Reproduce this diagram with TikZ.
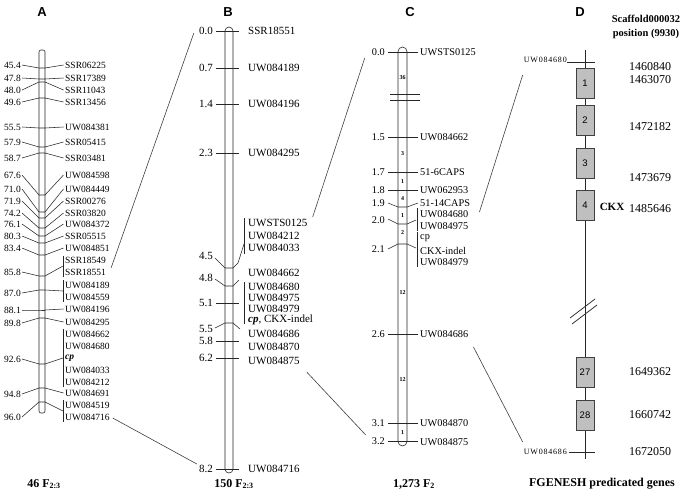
\documentclass[tikz,border=0pt]{standalone}
\usepackage{fontspec}
\setmainfont{Liberation Serif}
\newfontfamily\hdrfont{Liberation Sans}
\newfontfamily\widefont[LetterSpace=10]{Liberation Serif}
\usetikzlibrary{calc}
\begin{document}
\begin{tikzpicture}[x=1pt,y=-1pt,
  conn/.style={draw=black!85, line width=0.55pt},
  link/.style={draw=black!75, line width=0.6pt},
  chrom/.style={draw=black!85, line width=0.6pt, fill=white},
  labA/.style={inner sep=0pt, font=\fontsize{9.5}{10}\selectfont},
  labB/.style={inner sep=0pt, font=\fontsize{11}{12}\selectfont},
  labC/.style={inner sep=0pt, font=\fontsize{10.3}{11}\selectfont},
  labD/.style={inner sep=0pt, font=\fontsize{12}{13}\selectfont},
  smallD/.style={inner sep=0pt, font=\widefont\fontsize{8}{8}\selectfont},
  hdr/.style={inner sep=0pt, font=\hdrfont\bfseries\fontsize{13}{13}\selectfont},
  foot/.style={inner sep=0pt, font=\bfseries\fontsize{12}{13}\selectfont},
  intv/.style={inner sep=0pt, font=\bfseries\fontsize{6}{6}\selectfont},
  gene/.style={draw=black!75, fill=black!25, line width=0.6pt, minimum width=18pt, minimum height=30pt, inner sep=0pt, font=\hdrfont\fontsize{9.5}{10}\selectfont},
]
\useasboundingbox (0,0) rectangle (685,493);
\fill[white] (0,0) rectangle (685,493);

% ---------------- headers and footers
\node[hdr] (hA) at (42,12) {A};
\node[hdr] (hB) at (228,12) {B};
\node[hdr] (hC) at (410,12) {C};
\node[hdr] (hD) at (580,12) {D};
\node[foot] (fA) at (44,484) {46 F\textsubscript{2:3}};
\node[foot] (fB) at (234,484) {150 F\textsubscript{2:3}};
\node[foot] (fC) at (414,484) {1,273 F\textsubscript{2}};
\node[foot] (fD) at (602,484) {FGENESH predicated genes};

% ---------------- panel A
\draw[chrom, rounded corners=2pt] (39,50) rectangle (45,413);
\foreach \v/\ly/\ty [count=\i] in {45.4/65/68, 47.8/78/79, 48.0/90/82, 49.6/102/98, 55.5/127/128, 57.9/142/147, 58.7/158/153, 67.6/175/195, 71.0/189/212, 71.9/201/218, 74.2/213/228, 76.1/224/236, 80.3/236/243, 83.4/248/255, 85.8/272/276, 87.0/293/290, 88.1/310/310, 89.8/323/318, 92.6/359/364, 94.8/394/388, 96.0/417/402} {
  \node[labA, anchor=east] (aN\i) at (21,\ly) {\v};
  \draw[conn] ($(aN\i.east)+(1,0)$) -- (39,\ty) -- (45,\ty);
}
\foreach \nm/\ly [count=\i] in {SSR06225/65, SSR17389/78, SSR11043/90, SSR13456/102, UW084381/127, SSR05415/142, SSR03481/158, UW084598/175, UW084449/189, SSR00276/201, SSR03820/213, UW084372/224, SSR05515/236, UW084851/248, SSR18549/260, SSR18551/272, UW084189/285, UW084559/297, UW084196/309, UW084295/322, UW084662/334, UW084680/346, {\textbf{\textit{cp}}}/358, UW084033/370, UW084212/382, UW084691/393, UW084519/405, UW084716/417} {
  \node[labA, anchor=west] (aR\i) at (65,\ly) {\nm};
}
\foreach \ty/\j in {68/1, 79/2, 82/3, 98/4, 128/5, 147/6, 153/7, 195/8, 212/9, 218/10, 228/11, 236/12, 243/13, 255/14, 310/19, 318/20, 388/26}
  \draw[conn] (45,\ty) -- ($(aR\j.west)+(-1.5,0)$);
\draw[conn] (63,256) -- (63,277);
\draw[conn] (63,280) -- (63,302);
\draw[conn] (63,329) -- (63,387);
\draw[conn] (63,400) -- (63,422);
\draw[conn] (45,276) -- (63,266);
\draw[conn] (45,290) -- (63,291);
\draw[conn] (45,364) -- (63,358);
\draw[conn] (45,402) -- (63,411);

% ---------------- panel B
\draw[chrom, rounded corners=4pt] (225,27) rectangle (233,473);
\foreach \v/\ly [count=\i] in {0.0/31, 0.7/68, 1.4/104, 2.3/153, 4.5/256, 4.8/278, 5.1/303, 5.5/329, 5.8/341, 6.2/358, 8.2/469}
  \node[labB, anchor=east] (bN\i) at (213,\ly) {\v};
\foreach \nm/\ly [count=\i] in {SSR18551/31, UW084189/68, UW084196/104, UW084295/153, UWSTS0125/223, UW084212/236, UW084033/248, UW084662/273, UW084680/287, UW084975/298, UW084979/309, {\textbf{\textit{cp}}, CKX-indel}/320, UW084686/334, UW084870/347, UW084875/361, UW084716/469}
  \node[labB, anchor=west] (bR\i) at (248,\ly) {\nm};
\foreach \ty in {31,68,104,153,303,341,358,469}
  \draw[conn] (216,\ty) -- (239,\ty);
\draw[conn] ($(bN5.east)+(2,2)$) -- (225,268) -- (233,268) -- (238,263) -- (244,244);
\draw[conn] (244,218) -- (244,254);
\draw[conn] ($(bN6.east)+(2,1)$) -- (225,286) -- (233,286) -- (239,280);
\draw[conn] (244,282) -- (244,324);
\draw[conn] ($(bN8.east)+(2,-1)$) -- (225,323) -- (233,323) -- (240,329);

% ---------------- panel C
\draw[chrom, rounded corners=4.5pt] (398,47) rectangle (407,446);
\draw[conn] (390,94) -- (420,94);
\draw[conn] (390,100) -- (420,100);
\foreach \v/\ly [count=\i] in {0.0/52, 1.5/137, 1.7/172, 1.8/190, 1.9/203, 2.0/220, 2.1/249, 2.6/334, 3.1/423, 3.2/441}
  \node[labC, anchor=east] (cN\i) at (385,\ly) {\v};
\foreach \nm/\ly [count=\i] in {UWSTS0125/52, UW084662/137, 51-6CAPS/172, UW062953/190, 51-14CAPS/203, UW084680/214, UW084975/226.5, cp/238.5, CKX-indel/250.5, UW084979/262.5, UW084686/334, UW084870/423, UW084875/442}
  \node[labC, anchor=west] (cR\i) at (420,\ly) {\nm};
\foreach \ty in {52,137,172,190,334,423,441}
  \draw[conn] (388,\ty) -- (418,\ty);
\draw[conn] (388,203) -- (398,207) -- (407,207) -- (418,203);
\draw[conn] (388,219) -- (398,224) -- (407,224) -- (416,220);
\draw[conn] (417,208) -- (417,231);
\draw[conn] (388,249) -- (398,244) -- (407,244) -- (416,248);
\draw[conn] (417,232) -- (417,267);
\foreach \v/\ly [count=\i] in {36/78, 3/154, 1/182, 4/199, 1/216, 2/233, 12/293, 12/380, 1/433}
  \node[intv] (cI\i) at (402.5,\ly) {\v};

% ---------------- panel D
\draw[line width=1pt, black!85] (585,50) -- (585,459);
\draw[line width=0.8pt, black!80] (570,318) -- (595,299);
\draw[line width=0.8pt, black!80] (572,324) -- (597,305);
\node[smallD, anchor=east] (dL1) at (567,60) {UW084680};
\draw[conn] (dL1.east) ++(0,2) -- (595,62);
\node[smallD, anchor=east] (dL2) at (567,452) {UW084686};
\draw[conn] (569,452) -- (595,452);
\foreach \g/\cy in {1/83, 2/120.5, 3/163, 4/205, 27/372, 28/415}
  \node[gene] (g\g) at (585,\cy) {\g};
\node[inner sep=0pt, font=\bfseries\fontsize{11}{12}\selectfont] (ckx) at (612,207) {CKX};
\node[inner sep=0pt, font=\bfseries\fontsize{10.5}{11}\selectfont] (scf) at (646,19) {Scaffold000032};
\node[inner sep=0pt, font=\bfseries\fontsize{10.5}{11}\selectfont] (pos) at (646,34) {position (9930)};
\foreach \p/\ly [count=\i] in {1460840/67, 1463070/80, 1472182/127, 1473679/178, 1485646/209, 1649362/372, 1660742/415, 1672050/452}
  \node[labD, anchor=west] (dP\i) at (629,\ly) {\p};

% ---------------- links between panels
\draw[link] ($(aR16.east)+(5,-4)$) -- ($(bN1.west)+(-5,2)$);
\draw[link] ($(aR28.east)+(3,1)$) -- ($(bN11.west)+(-2,-5)$);
\draw[link] ($(bR5.east)+(5,-6)$) -- ($(cN1.west)+(-7,6)$);
\draw[link] ($(bR15.east)+(7,11)$) -- ($(cN10.west)+(-6,-6)$);
\draw[link] ($(cR6.east)+(11,-2)$) -- ($(dL1.west)+(-1,15)$);
\draw[link] ($(cR11.east)+(5,13)$) -- ($(dL2.west)+(-1,-10)$);
\end{tikzpicture}
\end{document}
